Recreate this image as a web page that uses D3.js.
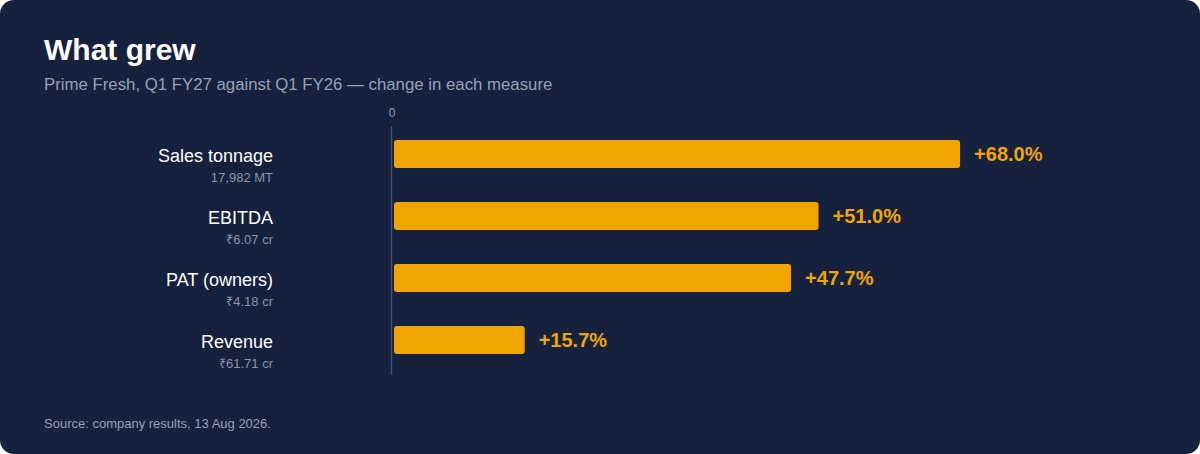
<!DOCTYPE html>
<html>
<head>
<meta charset="utf-8">
<script src="https://cdn.jsdelivr.net/npm/d3@7"></script>
<style>
  body { margin: 0; background: #ffffff; }
  svg { display: block; font-family: "Liberation Sans", Arial, Helvetica, sans-serif; }
</style>
</head>
<body>
<svg id="chart" width="1200" height="454"></svg>
<script>
// data
const measures = ['Sales tonnage', 'EBITDA', 'PAT (owners)', 'Revenue'];
const levels = ['17,982 MT', '₹6.07 cr', '₹4.18 cr', '₹61.71 cr'];
const growthPct = [68.0, 51.0, 47.7, 15.7];
const xTicks = [0];

const width = 1200, height = 454;
const navy = '#15213d';
const amber = '#f0a500';

const svg = d3.select('#chart');

// card
svg.append('rect')
  .attr('width', width).attr('height', height)
  .attr('rx', 14).attr('fill', navy);

// titles
svg.append('text')
  .attr('x', 44).attr('y', 60)
  .attr('fill', '#ffffff')
  .attr('font-size', 30).attr('font-weight', 700)
  .text('What grew');

svg.append('text')
  .attr('x', 44).attr('y', 90)
  .attr('fill', '#98a2b6')
  .attr('font-size', 16.8)
  .text('Prime Fresh, Q1 FY27 against Q1 FY26 — change in each measure');

// scales
const x = d3.scaleLinear().domain([0, 80]).range([394, 1060]);
const y = d3.scaleBand()
  .domain(measures)
  .range([123, 371])
  .paddingInner(34 / 62)
  .paddingOuter(17 / 62);

// zero tick + axis line
const axis = d3.axisTop(x).tickValues(xTicks).tickSize(0).tickPadding(0);
const gAxis = svg.append('g')
  .attr('transform', 'translate(-2.5,117)')
  .call(axis);
gAxis.select('.domain').remove();
gAxis.selectAll('text')
  .attr('fill', '#9aa3b5')
  .attr('font-size', 12)
  .attr('dy', 0)
  .style('font-family', '"Liberation Sans", Arial, sans-serif');

svg.append('line')
  .attr('x1', x(0) - 2.5).attr('x2', x(0) - 2.5)
  .attr('y1', 126).attr('y2', 375)
  .attr('stroke', '#46516b').attr('stroke-width', 1.5);

// bars
svg.selectAll('.bar')
  .data(growthPct)
  .join('rect')
    .attr('class', 'bar')
    .attr('x', x(0))
    .attr('y', (d, i) => y(measures[i]))
    .attr('width', d => x(d) - x(0))
    .attr('height', y.bandwidth())
    .attr('rx', 3)
    .attr('fill', amber);

// value labels
svg.selectAll('.val')
  .data(growthPct)
  .join('text')
    .attr('class', 'val')
    .attr('x', d => x(d) + 14)
    .attr('y', (d, i) => y(measures[i]) + y.bandwidth() / 2 + 7)
    .attr('fill', amber)
    .attr('font-size', 20)
    .attr('font-weight', 700)
    .text(d => '+' + d.toFixed(1) + '%');

// category labels
svg.selectAll('.cat')
  .data(measures)
  .join('text')
    .attr('class', 'cat')
    .attr('x', 273)
    .attr('y', d => y(d) + y.bandwidth() / 2 + 8)
    .attr('text-anchor', 'end')
    .attr('fill', '#ffffff')
    .attr('font-size', 18)
    .text(d => d);

svg.selectAll('.lvl')
  .data(levels)
  .join('text')
    .attr('class', 'lvl')
    .attr('x', 273)
    .attr('y', (d, i) => y(measures[i]) + y.bandwidth() / 2 + 28)
    .attr('text-anchor', 'end')
    .attr('fill', '#8c96a9')
    .attr('font-size', 13)
    .text(d => d);

// source
svg.append('text')
  .attr('x', 44).attr('y', 428)
  .attr('fill', '#98a2b6')
  .attr('font-size', 13)
  .text('Source: company results, 13 Aug 2026.');
</script>
</body>
</html>
